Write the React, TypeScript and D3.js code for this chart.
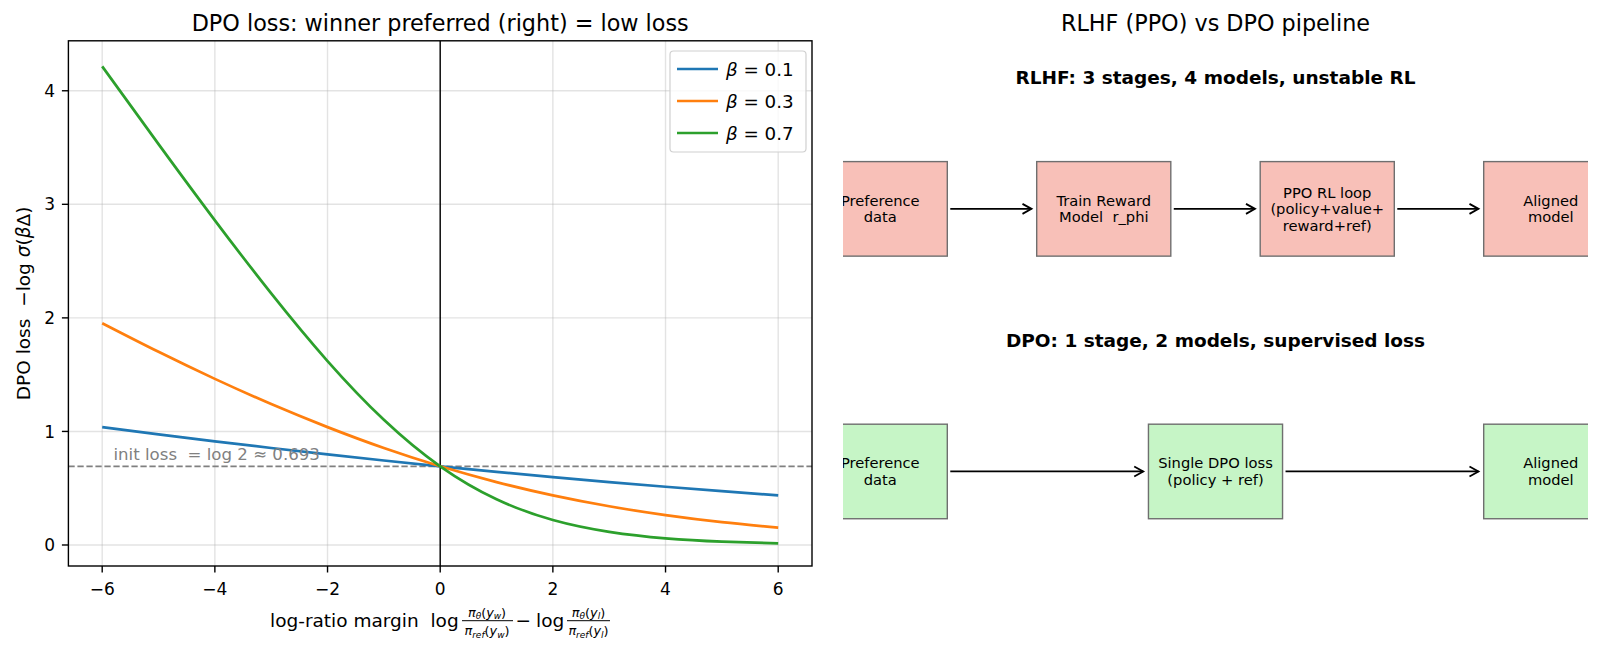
import * as d3 from 'd3';
import React from 'react';

// values at each integer margin
const margins = [-6, -5, -4, -3, -2, -1, 0, 1, 2, 3, 4, 5, 6];
const lossBeta01 = [1.038, 0.974, 0.913, 0.854, 0.798, 0.744, 0.693, 0.644, 0.598, 0.554, 0.513, 0.474, 0.437];
const lossBeta03 = [1.953, 1.701, 1.463, 1.241, 1.038, 0.854, 0.693, 0.554, 0.437, 0.341, 0.263, 0.201, 0.153];
const lossBeta07 = [4.215, 3.53, 2.859, 2.216, 1.62, 1.103, 0.693, 0.403, 0.22, 0.116, 0.059, 0.03, 0.015];
const betaLabels = ['0.1', '0.3', '0.7'];
const colors = ['#1f77b4', '#ff7f0e', '#2ca02c'];
const xTicks = [-6, -4, -2, 0, 2, 4, 6];
const yTicks = [0, 1, 2, 3, 4];
const initLoss = 0.693;

// pipeline diagram
const rlhfSteps = ['Preference\ndata', 'Train Reward\nModel  r_phi', 'PPO RL loop\n(policy+value+\nreward+ref)', 'Aligned\nmodel'];
const rlhfPos = [0.5, 3.5, 6.5, 9.5];
const dpoSteps = ['Preference\ndata', 'Single DPO loss\n(policy + ref)', 'Aligned\nmodel'];
const dpoPos = [0.5, 5, 9.5];

const FONT = 'DejaVu Sans';

function App() {
  const L = { x0: 68.4, x1: 812, y0: 40.8, y1: 566 };
  const x = d3.scaleLinear().domain([-6.6, 6.6]).range([L.x0, L.x1]);
  const y = d3.scaleLinear().domain([-0.185, 4.44]).range([L.y1, L.y0]);

  const R = { x0: 843, x1: 1588, y0: 40.8, y1: 566 };
  const rx = d3.scaleLinear().domain([0, 10]).range([R.x0, R.x1]);
  const ry = d3.scaleLinear().domain([0, 10]).range([R.y1, R.y0]);

  const line = d3.line<number>()
    .x((_, i) => x(margins[i]))
    .y(d => y(d))
    .curve(d3.curveNatural);

  const series = [lossBeta01, lossBeta03, lossBeta07];

  const drawRow = (steps: string[], pos: number[], cy: number, fill: string, key: string) => {
    const bw = 1.8, bh = 1.8;
    return (
      <g key={key}>
        {steps.map((s, i) => {
          const lines = s.split('\n');
          return (
            <g key={i}>
              <rect x={rx(pos[i] - bw / 2)} y={ry(cy + bh / 2)} width={rx(bw) - rx(0)} height={ry(0) - ry(bh)}
                fill={fill} stroke="#6f6f6f" strokeWidth={1.4} />
              {lines.map((t, j) => (
                <text key={j} x={rx(pos[i])} y={ry(cy) + (j - (lines.length - 1) / 2) * 16.5}
                  dy="0.35em" textAnchor="middle" fontSize={14.7} style={{ whiteSpace: 'pre' }}>{t}</text>
              ))}
            </g>
          );
        })}
        {pos.slice(0, -1).map((p, i) => {
          const xa = rx(p + 0.94), xb = rx(pos[i + 1] - 0.97), yy = ry(cy);
          return (
            <g key={'a' + i} stroke="#000" strokeWidth={1.8} fill="none">
              <line x1={xa} y1={yy} x2={xb} y2={yy} />
              <path d={`M${xb - 9},${yy - 5} L${xb},${yy} L${xb - 9},${yy + 5}`} />
            </g>
          );
        })}
      </g>
    );
  };

  const fracs = [
    { cx: 487, sub: 'w', x1: 462, x2: 513 },
    { cx: 588.5, sub: 'l', x1: 567, x2: 610 },
  ];

  return (
    <div style={{ position: 'absolute', left: 0, top: 0 }}>
      <svg width={1600} height={656} style={{ display: 'block', fontFamily: FONT }}>
        <rect width={1600} height={656} fill="#fff" />
        <defs>
          <clipPath id="leftClip"><rect x={L.x0} y={L.y0} width={L.x1 - L.x0} height={L.y1 - L.y0} /></clipPath>
          <clipPath id="rightClip"><rect x={R.x0} y={R.y0} width={R.x1 - R.x0} height={R.y1 - R.y0} /></clipPath>
        </defs>

        {/* left: loss curves */}
        <text x={(L.x0 + L.x1) / 2} y={30.5} textAnchor="middle" fontSize={22.3}>DPO loss: winner preferred (right) = low loss</text>
        <g stroke="#b0b0b0" strokeOpacity={0.35} strokeWidth={1.4}>
          {xTicks.map(t => <line key={'gx' + t} x1={x(t)} x2={x(t)} y1={L.y0} y2={L.y1} />)}
          {yTicks.map(t => <line key={'gy' + t} x1={L.x0} x2={L.x1} y1={y(t)} y2={y(t)} />)}
        </g>
        <g clipPath="url(#leftClip)">
          <line x1={L.x0} x2={L.x1} y1={y(initLoss)} y2={y(initLoss)} stroke="#808080" strokeWidth={1.7} strokeDasharray="6.3,2.7" />
          <line x1={x(0)} x2={x(0)} y1={L.y0} y2={L.y1} stroke="#000" strokeWidth={1.4} />
          {series.map((s, i) => (
            <path key={i} d={line(s) || ''} fill="none" stroke={colors[i]} strokeWidth={2.7} />
          ))}
        </g>
        <text x={x(-5.8)} y={y(0.745)} fontSize={16.6} fill="#808080" style={{ whiteSpace: 'pre' }}>
          {'init loss  = log 2 ≈ 0.693'}
        </text>
        <rect x={L.x0} y={L.y0} width={L.x1 - L.x0} height={L.y1 - L.y0} fill="none" stroke="#000" strokeWidth={1.4} />
        {xTicks.map(t => (
          <g key={'tx' + t}>
            <line x1={x(t)} x2={x(t)} y1={L.y1} y2={L.y1 + 6.5} stroke="#000" strokeWidth={1.4} />
            <text x={x(t)} y={595} textAnchor="middle" fontSize={17}>{t < 0 ? '\u2212' + Math.abs(t) : t}</text>
          </g>
        ))}
        {yTicks.map(t => (
          <g key={'ty' + t}>
            <line x1={L.x0 - 6.5} x2={L.x0} y1={y(t)} y2={y(t)} stroke="#000" strokeWidth={1.4} />
            <text x={55} y={y(t)} dy="0.36em" textAnchor="end" fontSize={17}>{t}</text>
          </g>
        ))}
        <text transform={`translate(23,${(L.y0 + L.y1) / 2}) rotate(-90)`} dy="0.36em" textAnchor="middle" fontSize={18.5} style={{ whiteSpace: 'pre' }}>
          {'DPO loss  \u2212log '}<tspan fontStyle="italic">σ</tspan>(<tspan fontStyle="italic">β</tspan>Δ)
        </text>

        {/* x label with fractions */}
        <g fontSize={18.5}>
          <text x={270} y={626.5} style={{ whiteSpace: 'pre' }}>{'log-ratio margin  log'}</text>
          <text x={515.5} y={626.5}>{'\u2212'}</text>
          <text x={536} y={626.5}>log</text>
          {fracs.map((f, i) => (
            <g key={'fr' + i} fontSize={12.8}>
              <text x={f.cx} y={616.5} textAnchor="middle">
                <tspan fontStyle="italic">π</tspan><tspan fontSize={9} fontStyle="italic" dy={2.5}>θ</tspan>
                <tspan dy={-2.5}>(</tspan><tspan fontStyle="italic">y</tspan><tspan fontSize={9} fontStyle="italic" dy={2.5}>{f.sub}</tspan><tspan dy={-2.5}>)</tspan>
              </text>
              <line x1={f.x1} x2={f.x2} y1={620.7} y2={620.7} stroke="#000" strokeWidth={1} />
              <text x={f.cx} y={635} textAnchor="middle">
                <tspan fontStyle="italic">π</tspan><tspan fontSize={9} fontStyle="italic" dy={2.5}>ref</tspan>
                <tspan dy={-2.5}>(</tspan><tspan fontStyle="italic">y</tspan><tspan fontSize={9} fontStyle="italic" dy={2.5}>{f.sub}</tspan><tspan dy={-2.5}>)</tspan>
              </text>
            </g>
          ))}
        </g>

        {/* legend */}
        <rect x={670} y={51} width={136} height={101} rx={3.5} fill="#fff" fillOpacity={0.8} stroke="#d0d0d0" strokeWidth={1.2} />
        {betaLabels.map((b, i) => {
          const ly = 69 + i * 32;
          return (
            <g key={'lg' + i}>
              <line x1={677} x2={718} y1={ly} y2={ly} stroke={colors[i]} strokeWidth={2.7} />
              <text x={726} y={ly} dy="0.36em" fontSize={18.3} style={{ whiteSpace: 'pre' }}>
                <tspan fontStyle="italic">β</tspan>{' = ' + b}
              </text>
            </g>
          );
        })}

        {/* right: pipeline diagram */}
        <text x={(R.x0 + R.x1) / 2} y={30.5} textAnchor="middle" fontSize={22.3}>RLHF (PPO) vs DPO pipeline</text>
        <text x={rx(5)} y={ry(9.3)} dy="0.36em" textAnchor="middle" fontSize={18.5} fontWeight="bold">RLHF: 3 stages, 4 models, unstable RL</text>
        <text x={rx(5)} y={ry(4.3)} dy="0.36em" textAnchor="middle" fontSize={18.5} fontWeight="bold">DPO: 1 stage, 2 models, supervised loss</text>
        <g clipPath="url(#rightClip)">
          {drawRow(rlhfSteps, rlhfPos, 6.8, '#f8c0b8', 'rlhf')}
          {drawRow(dpoSteps, dpoPos, 1.8, '#c6f5c6', 'dpo')}
        </g>
      </svg>
    </div>
  );
}

export default App;
